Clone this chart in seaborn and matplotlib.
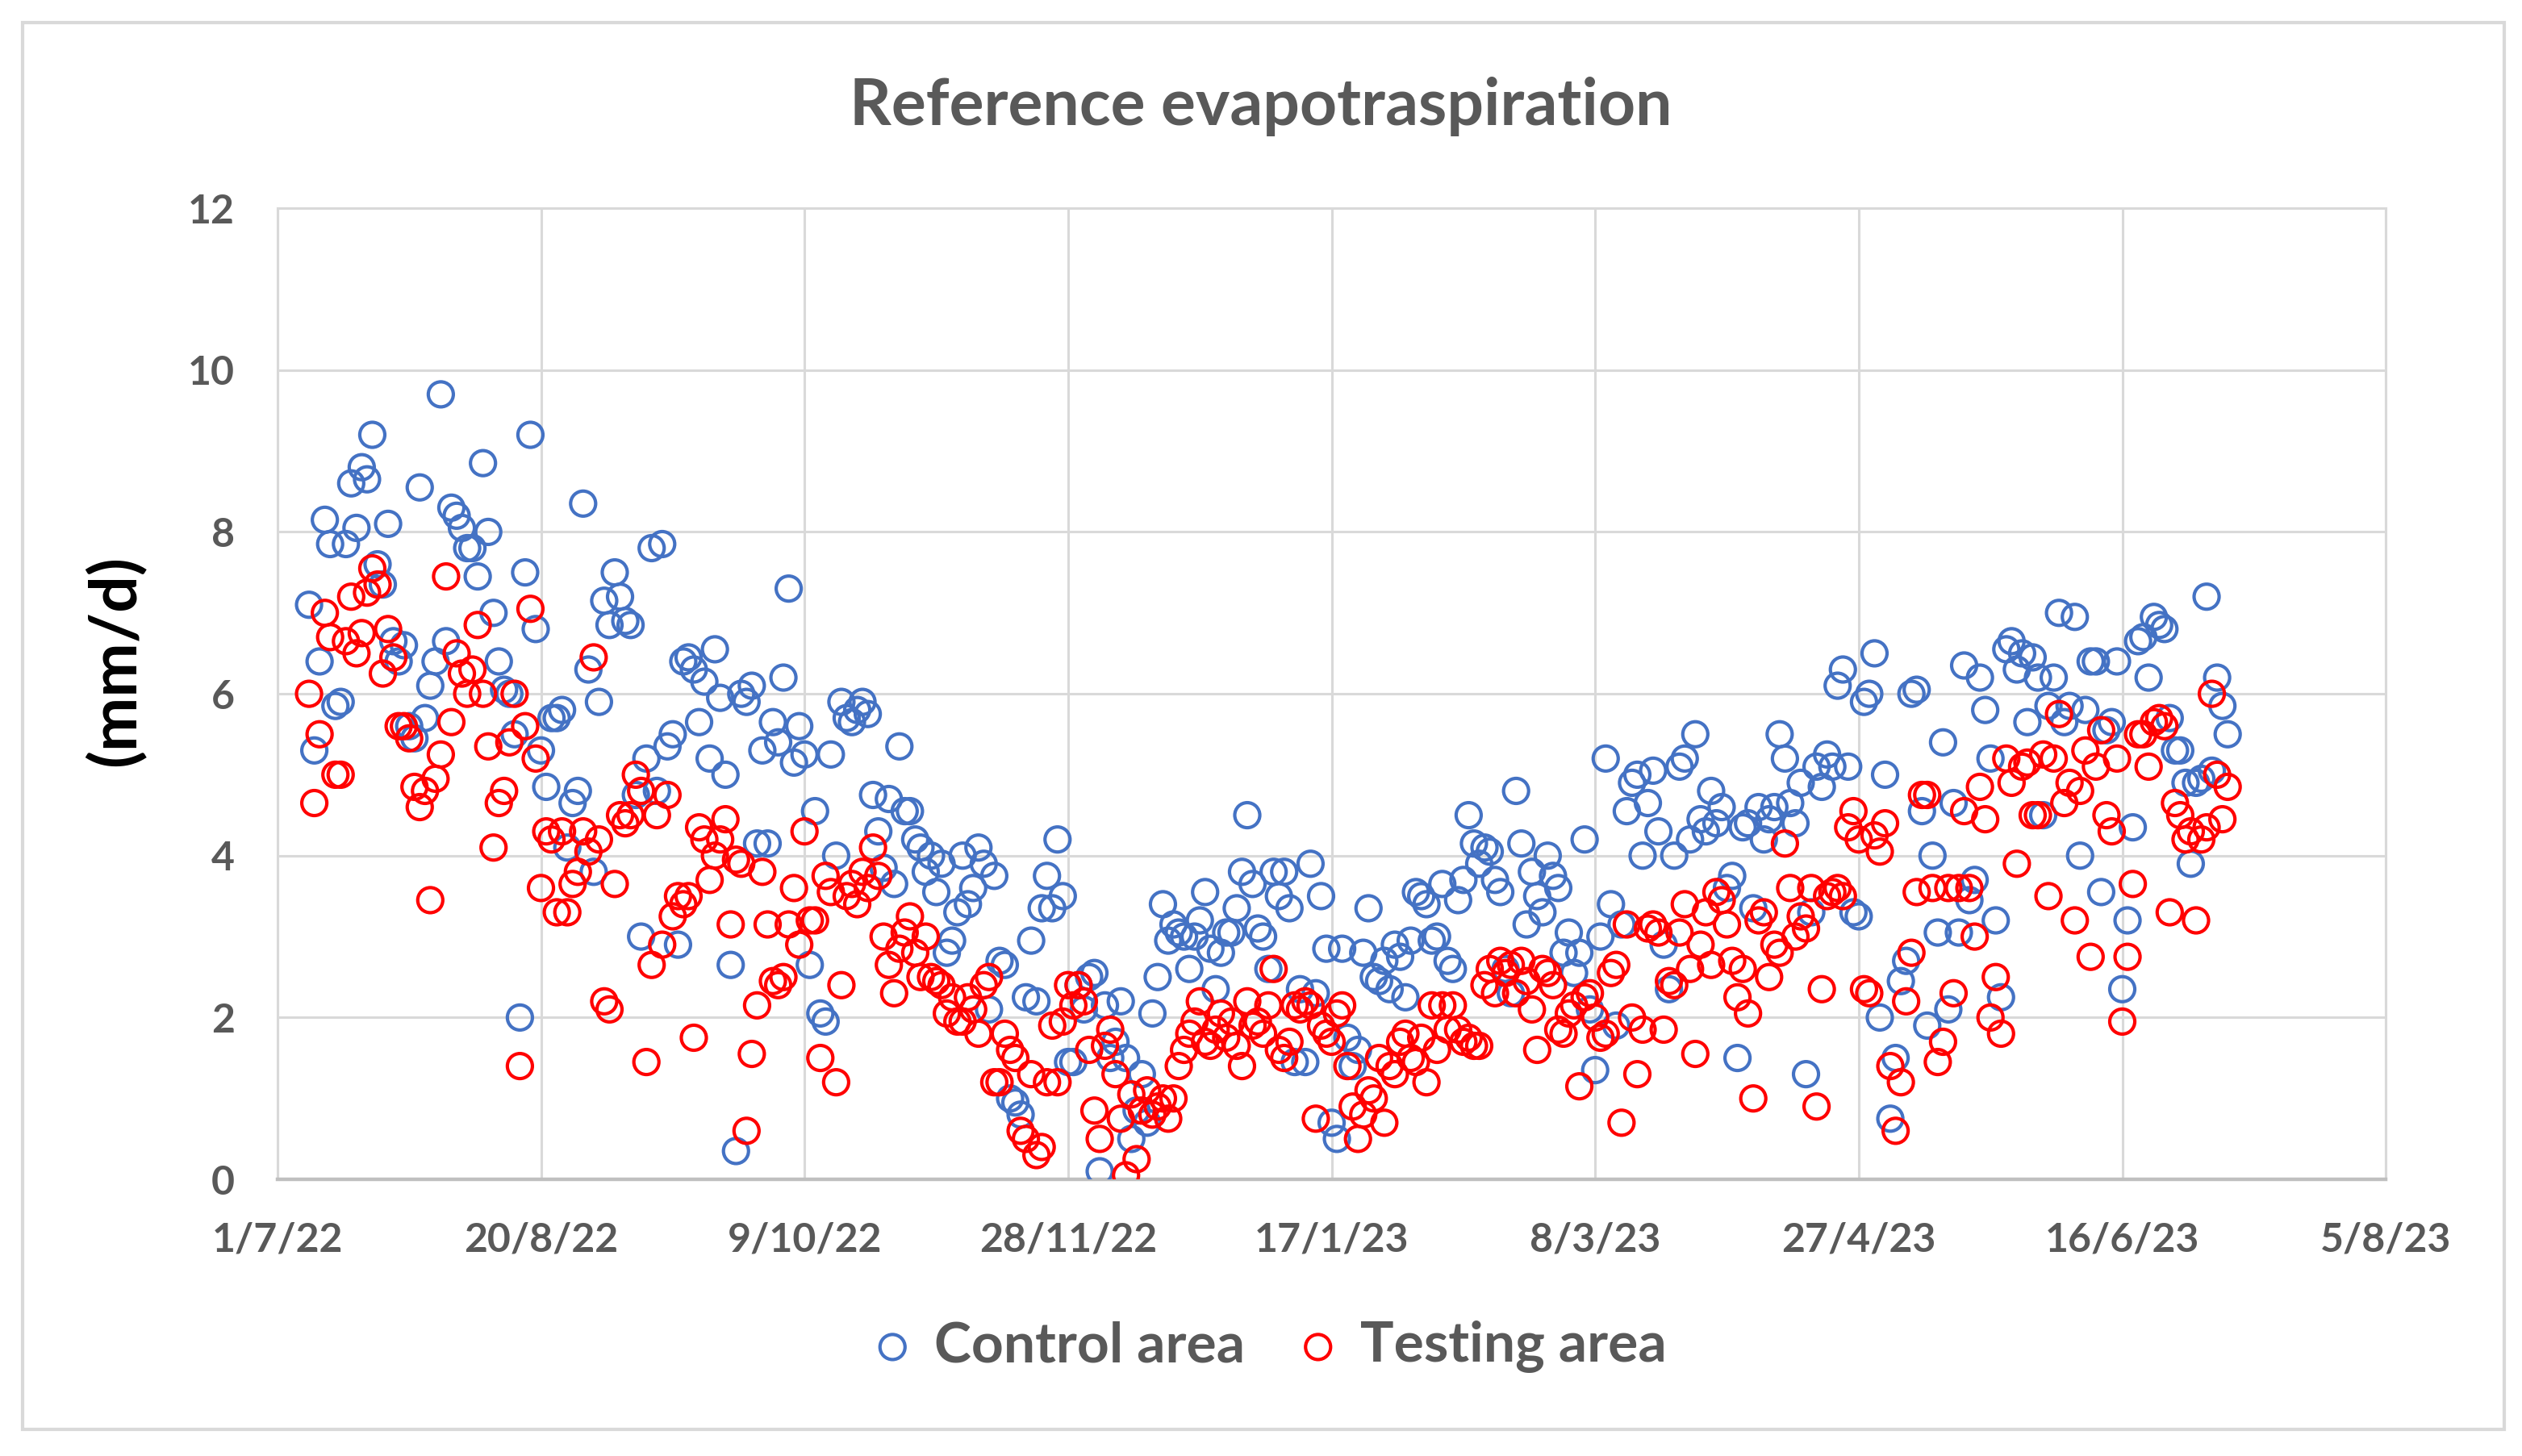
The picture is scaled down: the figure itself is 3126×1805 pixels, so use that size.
import pandas as pd
import matplotlib.pyplot as plt
from matplotlib.patches import Rectangle
import seaborn as sns

# Valores diarios de ET0 (mm/d), desde el 7/7/22
start_date = "2022-07-07"

control_area = [
    7.1, 5.3, 6.4, 8.15, 7.85, 5.85, 5.9, 7.85, 8.6, 8.05,
    8.8, 8.65, 9.2, 7.6, 7.35, 8.1, 6.65, 6.4, 6.6, 5.6,
    5.45, 8.55, 5.7, 6.1, 6.4, 9.7, 6.65, 8.3, 8.2, 8.05,
    7.8, 7.8, 7.45, 8.85, 8.0, 7.0, 6.4, 6.05, 6.0, 5.5,
    2.0, 7.5, 9.2, 6.8, 5.3, 4.85, 5.7, 5.7, 5.8, 4.1,
    4.65, 4.8, 8.35, 6.3, 3.8, 5.9, 7.15, 6.85, 7.5, 7.2, 6.9,
    6.85, 4.75, 3.0, 5.2, 7.8, 4.8, 7.85, 5.35, 5.5, 2.9, 6.4,
    6.45, 6.3, 5.65, 6.15, 5.2, 6.55, 5.95, 5.0, 2.65, 0.35, 6.0,
    5.9, 6.1, 4.15, 5.3, 4.15, 5.65, 5.4, 6.2, 7.3, 5.15, 5.6,
    5.25, 2.65, 4.55, 2.05, 1.95, 5.25, 4.0, 5.9, 5.7, 5.65, 5.8,
    5.9, 5.75, 4.75, 4.3, 3.85, 4.7, 3.65, 5.35, 4.55, 4.55, 4.2,
    4.1, 3.8, 4.0, 3.55, 3.9, 2.8, 2.95, 3.3, 4.0, 3.4, 3.6,
    4.1, 3.9, 2.1, 3.75, 2.7, 2.65, 1.0, 0.95, 0.8, 2.25,
    2.95, 2.2, 3.35, 3.75, 3.35, 4.2, 3.5, 1.45, 1.45, 2.4, 2.1,
    2.5, 2.55, 0.1, 2.15, 1.5, 1.7, 2.2, 1.5, 0.5, 0.85, 1.3,
    0.7, 2.05, 2.5, 3.4, 2.95, 3.15, 3.05, 3.0, 2.6, 3.0, 3.2,
    3.55, 2.85, 2.35, 2.8, 3.05, 3.05, 3.35, 3.8, 4.5, 3.65, 3.1,
    3.0, 2.6, 3.8, 3.5, 3.8, 3.35, 1.45, 2.35, 1.45, 3.9, 2.3,
    3.5, 2.85, 0.7, 0.5, 2.85, 1.75, 1.4, 1.6, 2.8, 3.35, 2.5,
    2.45, 2.7, 2.35, 2.9, 2.75, 2.25, 2.95, 3.55, 3.5, 3.4,
    2.95, 3.0, 3.65, 2.7, 2.6, 3.45, 3.7, 4.5, 4.15, 3.9, 4.1,
    4.05, 3.7, 3.55, 2.6, 2.3, 4.8, 4.15, 3.15, 3.8, 3.5, 3.3,
    4.0, 3.75, 3.6, 2.8, 3.05, 2.55, 2.8, 4.2, 2.1, 1.35, 3.0,
    5.2, 3.4, 1.9, 3.15, 4.55, 4.9, 5.0, 4.0, 4.65, 5.05, 4.3,
    2.9, 2.35, 4.0, 5.1, 5.2, 4.2, 5.5, 4.45, 4.3, 4.8, 4.4,
    4.6, 3.6, 3.75, 1.5, 4.35, 4.4, 3.35, 4.6, 4.2, 4.45, 4.6,
    5.5, 5.2, 4.65, 4.4, 4.9, 1.3, 3.3, 5.1, 4.85, 5.25,
    5.1, 6.1, 6.3, 5.1, 3.3, 3.25, 5.9, 6.0, 6.5, 2.0, 5.0,
    0.75, 1.5, 2.45, 2.7, 6.0, 6.05, 4.55, 1.9, 4.0, 3.05, 5.4,
    2.1, 4.65, 3.05, 6.35, 3.45, 3.7, 6.2, 5.8, 5.2, 3.2,
    2.25, 6.55, 6.65, 6.3, 6.5, 5.65, 6.45, 6.2, 4.5, 5.85,
    6.2, 7.0, 5.65, 5.85, 6.95, 4.0, 5.8, 6.4, 6.4, 3.55,
    5.55, 5.65, 6.4, 2.35, 3.2, 4.35, 6.65, 6.7, 6.2, 6.95,
    6.85, 6.8, 5.7, 5.3, 5.3, 4.9, 3.9, 4.9, 4.95, 7.2,
    5.05, 6.2, 5.85, 5.5,
]

testing_area = [
    6.0, 4.65, 5.5, 7.0, 6.7, 5.0, 5.0, 6.65, 7.2, 6.5,
    6.75, 7.25, 7.55, 7.35, 6.25, 6.8, 6.45, 5.6, 5.6, 5.45,
    4.85, 4.6, 4.8, 3.45, 4.95, 5.25, 7.45, 5.65, 6.5, 6.25,
    6.0, 6.3, 6.85, 6.0, 5.35, 4.1, 4.65, 4.8, 5.4, 6.0,
    1.4, 5.6, 7.05, 5.2, 3.6, 4.3, 4.2, 3.3, 4.3, 3.3,
    3.65, 3.8, 4.3, 4.05, 6.45, 4.2, 2.2, 2.1, 3.65, 4.5, 4.4,
    4.5, 5.0, 4.8, 1.45, 2.65, 4.5, 2.9, 4.75, 3.25, 3.5, 3.4,
    3.5, 1.75, 4.35, 4.2, 3.7, 4.0, 4.2, 4.45, 3.15, 3.95, 3.9,
    0.6, 1.55, 2.15, 3.8, 3.15, 2.45, 2.4, 2.5, 3.15, 3.6, 2.9,
    4.3, 3.2, 3.2, 1.5, 3.75, 3.55, 1.2, 2.4, 3.5, 3.65, 3.4,
    3.8, 3.6, 4.1, 3.75, 3.0, 2.65, 2.3, 2.85, 3.05, 3.25, 2.8,
    2.5, 3.0, 2.5, 2.45, 2.4, 2.05, 2.25, 1.95, 1.95, 2.25, 2.1,
    1.8, 2.4, 2.5, 1.2, 1.2, 1.8, 1.6, 1.5, 0.6, 0.5, 1.3,
    0.3, 0.4, 1.2, 1.9, 1.2, 1.95, 2.4, 2.15, 2.4, 2.2, 1.6,
    0.85, 0.5, 1.65, 1.85, 1.3, 0.75, 0.05, 1.05, 0.25, 0.85, 1.1,
    0.8, 0.9, 1.0, 0.75, 1.0, 1.4, 1.6, 1.8, 1.95, 2.2, 1.7,
    1.65, 1.85, 2.05, 1.75, 1.95, 1.65, 1.4, 2.2, 1.9, 1.95, 1.8,
    2.15, 2.6, 1.6, 1.5, 1.7, 2.15, 2.1, 2.2, 2.15, 0.75, 1.9,
    1.8, 1.7, 2.05, 2.15, 1.4, 0.9, 0.5, 0.8, 1.1, 1.0, 1.5,
    0.7, 1.4, 1.3, 1.7, 1.8, 1.5, 1.45, 1.75, 1.2, 2.15, 1.6,
    2.15, 1.85, 2.15, 1.85, 1.7, 1.75, 1.65, 1.65, 2.4, 2.6, 2.3,
    2.7, 2.55, 2.65, 2.3, 2.7, 2.45, 2.1, 1.6, 2.6, 2.55, 2.4,
    1.85, 1.8, 2.05, 2.15, 1.15, 2.25, 2.3, 2.0, 1.75, 1.8,
    2.55, 2.65, 0.7, 3.15, 2.0, 1.3, 1.85, 3.1, 3.15, 3.05,
    1.85, 2.45, 2.4, 3.05, 3.4, 2.6, 1.55, 2.9, 3.3, 2.65,
    3.55, 3.45, 3.15, 2.7, 2.25, 2.6, 2.05, 1.0, 3.2, 3.3,
    2.5, 2.9, 2.8, 4.15, 3.6, 3.0, 3.25, 3.1, 3.6, 0.9,
    2.35, 3.5, 3.55, 3.6, 3.5, 4.35, 4.55, 4.2, 2.35, 2.3,
    4.25, 4.05, 4.4, 1.4, 0.6, 1.2, 2.2, 2.8, 3.55, 4.75,
    4.75, 3.6, 1.45, 1.7, 3.6, 2.3, 3.6, 4.55, 3.6, 3.0,
    4.85, 4.45, 2.0, 2.5, 1.8, 5.2, 4.9, 3.9, 5.1, 5.15,
    4.5, 4.5, 5.25, 3.5, 5.2, 5.75, 4.65, 4.9, 3.2, 4.8,
    5.3, 2.75, 5.1, 5.55, 4.5, 4.3, 5.2, 1.95, 2.75, 3.65,
    5.5, 5.5, 5.1, 5.65, 5.7, 5.6, 3.3, 4.65, 4.5, 4.2,
    4.3, 3.2, 4.2, 4.35, 6.0, 5.0, 4.45, 4.85,
]

x_ticks = pd.date_range("2022-07-01", periods=9, freq="50D")
x_labels = [f"{d.day}/{d.month}/{d:%y}" for d in x_ticks]
y_ticks = [0, 2, 4, 6, 8, 10, 12]

control_df = pd.DataFrame({
    "Fecha": pd.date_range(start_date, periods=len(control_area), freq="D"),
    "ET0": control_area,
})
testing_df = pd.DataFrame({
    "Fecha": pd.date_range(start_date, periods=len(testing_area), freq="D"),
    "ET0": testing_area,
})

sns.set_theme(style="white")
plt.rcParams["font.family"] = ["Lato", "DejaVu Sans"]

fig, ax = plt.subplots(figsize=(15.63, 9.025), dpi=200)
fig.subplots_adjust(left=0.110, right=0.946, bottom=0.190, top=0.857)

sns.scatterplot(data=control_df, x="Fecha", y="ET0", ax=ax, s=125,
                facecolors="none", edgecolor="#4472C4", linewidth=1.5,
                label="Control area", zorder=3)
sns.scatterplot(data=testing_df, x="Fecha", y="ET0", ax=ax, s=125,
                facecolors="none", edgecolor="#FF0000", linewidth=1.5,
                label="Testing area", zorder=4)

ax.set_xlim(x_ticks[0], x_ticks[-1])
ax.set_ylim(0, 12)
ax.set_xticks(x_ticks, x_labels, fontweight="bold")
ax.set_yticks(y_ticks, [str(v) for v in y_ticks], fontweight="bold")
ax.tick_params(length=0, pad=19, labelsize=18, labelcolor="#595959")
ax.grid(True, color="#D9D9D9", linewidth=1.1)
ax.set_axisbelow(True)
ax.set_xlabel("")
ax.set_ylabel("")
for side in ["left", "top", "right"]:
    ax.spines[side].set_color("#D9D9D9")
    ax.spines[side].set_linewidth(1.1)
ax.spines["bottom"].set_color("#BFBFBF")
ax.spines["bottom"].set_linewidth(1.6)

fig.text(0.5, 0.927, "Reference evapotraspiration", ha="center", va="center",
         fontsize=29, fontweight="bold", color="#595959")
fig.text(0.046, 0.546, "(mm/d)", rotation=90, ha="center", va="center",
         fontsize=29, fontweight="bold", color="black")

ax.legend(loc="center", bbox_to_anchor=(0.504, 0.075), bbox_transform=fig.transFigure,
          ncol=2, frameon=False, prop={"weight": "bold", "size": 25},
          labelcolor="#595959", handlelength=0.6, handletextpad=0.45,
          columnspacing=1.0, markerscale=1.0)

# Marco exterior del grafico
fig.add_artist(Rectangle((28 / 3126, 1 - 1772 / 1805), (3104 - 28) / 3126, (1772 - 28) / 1805,
                         transform=fig.transFigure, fill=False,
                         edgecolor="#D9D9D9", linewidth=1.5))

plt.savefig("out.png", dpi=200)
plt.close()
